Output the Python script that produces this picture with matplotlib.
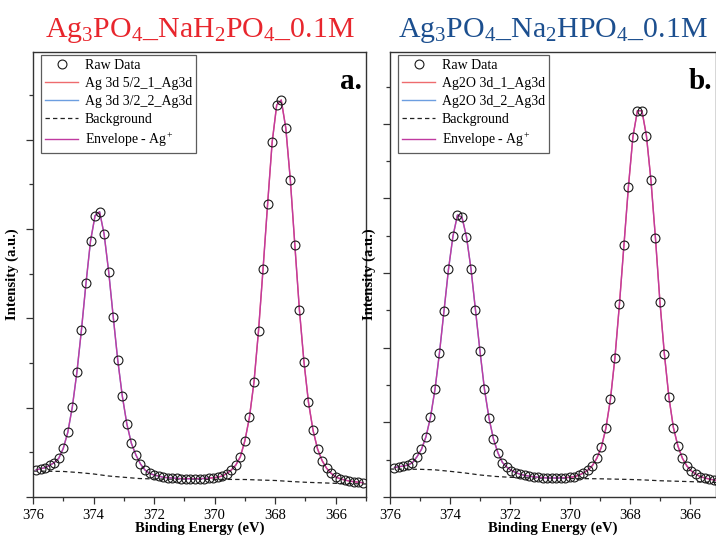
import numpy as np
import matplotlib
matplotlib.use("Agg")
import matplotlib.pyplot as plt
from matplotlib.ticker import MultipleLocator

plt.rcParams['font.family'] = ['Liberation Serif', 'DejaVu Serif']
plt.rcParams['mathtext.fontset'] = 'custom'
plt.rcParams['mathtext.rm'] = 'Liberation Serif'
plt.rcParams['mathtext.it'] = 'Liberation Serif:italic'
plt.rcParams['mathtext.bf'] = 'Liberation Serif:bold'

# binding energy grid of the scans (0.15 eV step)
be_a = np.round(375.90 - 0.15 * np.arange(73), 2)
be_b = np.round(375.85 - 0.15 * np.arange(73), 2)

# raw counts, panel a (NaH2PO4)
raw_a = [13020, 13170, 13280, 13550, 13840, 14330, 15450, 17250, 20110, 23970,
         28700, 33930, 38670, 41510, 41950, 39420, 35230, 30190, 25310, 21310,
         18180, 16010, 14700, 13700, 13020, 12650, 12460, 12350, 12210, 12160,
         12130, 12090, 12050, 12050, 12050, 12050, 12060, 12070, 12110, 12150,
         12220, 12350, 12630, 13020, 13580, 14510, 16310, 18930, 22880, 28630,
         35570, 42820, 49730, 53900, 54460, 51330, 45540, 38190, 30980, 25150,
         20610, 17470, 15380, 14070, 13210, 12650, 12240, 12040, 11900, 11790,
         11710, 11660, 11600]

# raw counts, panel b (Na2HPO4)
raw_b = [13950, 14060, 14150, 14290, 14600, 15400, 16390, 18080, 20680, 24430,
         29340, 34920, 40510, 44970, 47790, 47480, 44880, 40590, 35060, 29560,
         24430, 20590, 17770, 15900, 14620, 13990, 13550, 13260, 13040, 12890,
         12790, 12710, 12640, 12590, 12550, 12550, 12550, 12560, 12590, 12640,
         12730, 12920, 13220, 13620, 14220, 15230, 16700, 19250, 23090, 28670,
         35820, 43730, 51580, 58280, 61760, 61760, 58410, 52480, 44750, 36170,
         29120, 23360, 19290, 16830, 15190, 14150, 13480, 13060, 12720, 12550,
         12410, 12280, 12180]

# Shirley background
bg_be = [376.0, 375.0, 374.5, 374.0, 373.5, 373.0, 372.5, 372.0, 371.0, 370.0,
         369.0, 368.5, 368.0, 367.5, 367.0, 366.0, 365.0]
bg_a = [12910, 12860, 12740, 12580, 12350, 12210, 12070, 12020, 11990, 11980,
        11960, 11900, 11850, 11740, 11650, 11530, 11460]
bg_be_b = [376.0, 375.0, 374.5, 374.0, 373.5, 373.0, 372.5, 372.0, 371.0, 370.0,
           369.0, 368.0, 367.5, 367.0, 366.0, 365.0]
bg_b = [13750, 13710, 13640, 13440, 13220, 12950, 12760, 12640, 12520, 12480,
        12440, 12350, 12280, 12180, 12060, 11940]

panels = [
    dict(be=be_a, raw=raw_a, bgx=bg_be, bg=bg_a,
         title=r'Ag$_3$PO$_4$_NaH$_2$PO$_4$_0.1M', tcolor='#e8262d',
         comp=['Ag 3d 5/2_1_Ag3d', 'Ag 3d 3/2_2_Ag3d'], tag='a.',
         rect=[33/716, 39/536, 333/716, 445/536], xlim=(376, 365.0),
         ylim=(10000, 59840), ystep=5000),
    dict(be=be_b, raw=raw_b, bgx=bg_be_b, bg=bg_b,
         title=r'Ag$_3$PO$_4$_Na$_2$HPO$_4$_0.1M', tcolor='#1c4f8f',
         comp=['Ag2O 3d_1_Ag3d', 'Ag2O 3d_2_Ag3d'], tag='b.',
         rect=[390/716, 39/536, 326/716, 445/536], xlim=(376, 365.13),
         ylim=(10000, 69630), ystep=5000),
]

fig = plt.figure(figsize=(7.16, 5.36), dpi=100)

for p in panels:
    ax = fig.add_axes(p['rect'])
    be = p['be']
    raw = np.array(p['raw'])
    ax.plot(p['bgx'], p['bg'], ls=(0, (3.5, 2.5)), color='#222222', lw=0.9, label='Background', zorder=2)
    ax.plot(be[38:], raw[38:], color='#ee6b6e', lw=1.0, label=p['comp'][0], zorder=2)
    ax.plot(be[:39], raw[:39], color='#6c9ee0', lw=1.0, label=p['comp'][1], zorder=2)
    ax.plot(be, raw, color='#c03aa0', lw=1.0, label='Envelope - Ag$^{+}$', zorder=3)
    ax.plot(be, raw, 'o', mfc='none', mec='#1a1a1a', mew=0.8, ms=6.4, label='Raw Data', zorder=4)

    ax.set_xlim(*p['xlim'])
    ax.set_ylim(*p['ylim'])
    ax.xaxis.set_major_locator(MultipleLocator(2))
    ax.xaxis.set_minor_locator(MultipleLocator(1))
    ax.yaxis.set_major_locator(MultipleLocator(2 * p['ystep']))
    ax.yaxis.set_minor_locator(MultipleLocator(p['ystep']))
    ax.set_yticklabels([])
    ax.tick_params(which='major', direction='out', length=5, width=0.9, labelsize=10.5, color='#333333')
    ax.tick_params(which='minor', direction='out', length=3, width=0.9, color='#333333')
    for s in ax.spines.values():
        s.set_linewidth(1.0)
        s.set_color('#333333')

    ax.set_xlabel('Binding Energy (eV)', fontsize=10.5, fontweight='bold')
    ax.set_ylabel('Intensity (a.u.)', fontsize=10.5, fontweight='bold')
    ax.xaxis.set_label_coords(0.5, -0.054)
    ax.yaxis.set_label_coords(-0.042, 0.5)

    h, l = ax.get_legend_handles_labels()
    order = [4, 1, 2, 0, 3]
    leg = ax.legend([h[i] for i in order], [l[i] for i in order], loc='upper left',
                    bbox_to_anchor=(0.024, 0.993), borderaxespad=0, fontsize=10,
                    frameon=True, fancybox=False, edgecolor='#333333',
                    handlelength=2.4, handletextpad=0.45, labelspacing=0.35,
                    borderpad=0.3)
    leg.get_frame().set_linewidth(0.9)

    ax.text(0.988, 0.917, p['tag'], transform=ax.transAxes, ha='right', va='baseline',
            fontsize=21, fontweight='bold')
    fig.text(p['rect'][0] + p['rect'][2] / 2, 0.9315, p['title'], ha='center', va='baseline',
             fontsize=21.5, color=p['tcolor'])

fig.savefig('out.png', dpi=100)
